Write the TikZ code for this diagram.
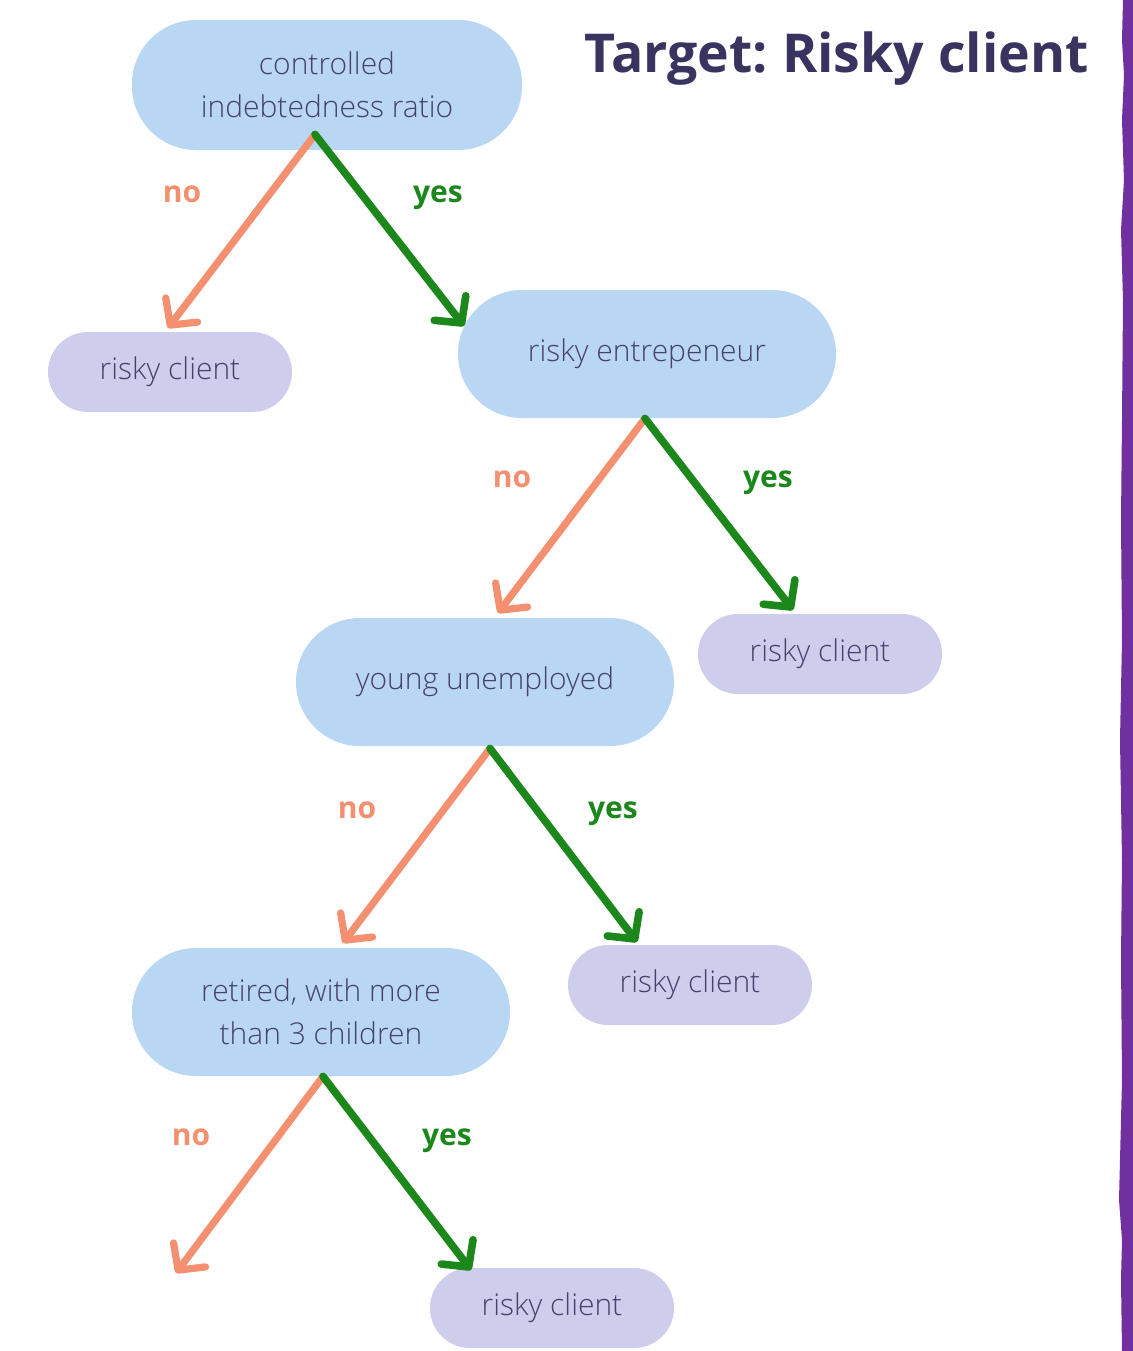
\documentclass[tikz,border=0pt]{standalone}
\usepackage{fontspec}
\setmainfont{Open Sans}
\newfontfamily\lightfont{Open Sans Light}
\usetikzlibrary{arrows.meta}
\definecolor{nodeblue}{HTML}{B9D6F2}
\definecolor{leafc}{HTML}{CFCDEC}
\definecolor{txtc}{HTML}{45426E}
\definecolor{titlec}{HTML}{38345F}
\definecolor{noc}{HTML}{F4906F}
\definecolor{yesc}{HTML}{1C881C}
\definecolor{barc}{HTML}{7030A0}
\begin{document}
\begin{tikzpicture}[x=0.5pt,y=-0.5pt,
  decision/.style={fill=nodeblue, rounded corners=32pt, minimum width=189pt, minimum height=64pt,
    text=txtc, font=\lightfont\fontsize{15}{21.5}\selectfont, align=center, inner sep=0pt},
  leafnode/.style={fill=leafc, rounded corners=20pt, minimum width=122pt, minimum height=40pt,
    text=txtc, font=\lightfont\fontsize{15}{17}\selectfont, inner sep=0pt},
  tip/.style={-{Straight Barb[length=9.5pt,width=20pt,round]}},
  noarrow/.style={draw=noc, line width=3.6pt, line cap=round, tip},
  yesarrow/.style={draw=yesc, line width=3.8pt, line cap=round, tip},
  nolabel/.style={text=noc, font=\fontsize{15}{18}\selectfont\bfseries, anchor=base, inner sep=0pt},
  yeslabel/.style={text=yesc, font=\fontsize{15}{18}\selectfont\bfseries, anchor=base, inner sep=0pt}
]
\useasboundingbox (0,0) rectangle (1133,1351);
\fill[white] (0,0) rectangle (1133,1351);

% purple bar on the right
\fill[barc] (1133,0) -- (1123,0) -- (1122,40) -- (1124,75) -- (1122,120) -- (1124,180) -- (1121,230)
  -- (1123,300) -- (1122,420) -- (1121,520) -- (1122,640) -- (1120,740) -- (1122,860) -- (1121,960)
  -- (1122,1080) -- (1120,1160) -- (1119,1200) -- (1122,1240) -- (1121,1280) -- (1122,1351) -- (1133,1351) -- cycle;

% title
\node[anchor=base west, text=titlec, font=\fontsize{26.8}{32}\selectfont\bfseries, inner sep=0pt]
  (title) at (584,72) {Target:\hspace{-0.08em} Risky client};

% nodes
\node[decision, minimum width=195pt, minimum height=65pt] (n1) at (327,85) {controlled\\indebtedness ratio};
\node[leafnode] (l1) at (170,372) {risky client};
\node[decision] (n2) at (647,354) {risky entrepeneur};
\node[leafnode] (l2) at (820,654) {risky client};
\node[decision] (n3) at (485,682) {young unemployed};
\node[leafnode] (l3) at (690,985) {risky client};
\node[decision] (n4) at (321,1012) {retired, with more\\than 3 children};
\node[leafnode] (l4) at (552,1308) {risky client};

% arrow end points
\coordinate (s1) at ([xshift=-6pt,yshift=8pt]n1.south);
\coordinate (s2) at ([xshift=-1pt,yshift=0pt]n2.south);
\coordinate (s3) at ([xshift=2.5pt,yshift=-1pt]n3.south);
\coordinate (s4) at ([xshift=1pt,yshift=0pt]n4.south);
\coordinate (e1no) at (168,328);
\coordinate (e1yes) at (464,326);
\coordinate (e2no) at (498,613);
\coordinate (e2yes) at (793,610);
\coordinate (e3no) at (343,943);
\coordinate (e3yes) at (637,942);
\coordinate (e4no) at (176,1273);
\coordinate (e4yes) at (471,1270);

\draw[noarrow] (s1) -- (e1no);
\draw[yesarrow] (s1) -- (e1yes);
\draw[noarrow] (s2) -- (e2no);
\draw[yesarrow] (s2) -- (e2yes);
\draw[noarrow] (s3) -- (e3no);
\draw[yesarrow] (s3) -- (e3yes);
\draw[noarrow] (s4) -- (e4no);
\draw[yesarrow] (s4) -- (e4yes);

% labels
\node[nolabel] (t1) at (182,202) {no};
\node[yeslabel] (u1) at (438,202) {yes};
\node[nolabel] (t2) at (512,487) {no};
\node[yeslabel] (u2) at (768,487) {yes};
\node[nolabel] (t3) at (357,818) {no};
\node[yeslabel] (u3) at (613,818) {yes};
\node[nolabel] (t4) at (191,1145) {no};
\node[yeslabel] (u4) at (447,1145) {yes};
\end{tikzpicture}
\end{document}
